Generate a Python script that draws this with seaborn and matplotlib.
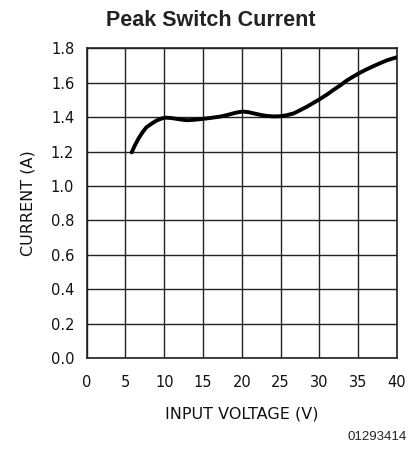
import matplotlib
matplotlib.use("Agg")
import matplotlib.pyplot as plt
import seaborn as sns
import pandas as pd
from matplotlib import font_manager

voltage = [5.8, 6.2, 6.7, 7.2, 7.7, 8.4, 9.0, 9.6, 10.1, 10.8, 11.6, 12.3, 12.9, 14.0, 15.0,
           16.1, 17.2, 18.1, 18.9, 19.5, 20.1, 20.8, 21.5, 22.4, 23.2, 24.1, 24.9, 25.8,
           26.7, 27.5, 28.4, 29.2, 30.1, 31.0, 31.8, 32.7, 33.5, 34.3, 35.1, 36.0, 37.0,
           37.9, 38.7, 39.4, 40.0]
current = [1.195, 1.235, 1.277, 1.312, 1.341, 1.363, 1.380, 1.391, 1.397, 1.395, 1.390,
           1.385, 1.382, 1.385, 1.390, 1.396, 1.403, 1.412, 1.422, 1.428, 1.432, 1.429,
           1.422, 1.413, 1.407, 1.404, 1.405, 1.411, 1.422, 1.440, 1.461, 1.482, 1.506,
           1.532, 1.558, 1.585, 1.612, 1.634, 1.655, 1.676, 1.697, 1.715, 1.730, 1.740,
           1.748]
x_ticks = [0, 5, 10, 15, 20, 25, 30, 35, 40]
y_ticks = [0.0, 0.2, 0.4, 0.6, 0.8, 1.0, 1.2, 1.4, 1.6, 1.8]

df = pd.DataFrame({"Input Voltage (V)": voltage, "Current (A)": current})

sns.set_theme(style="white")
avail = {f.name for f in font_manager.fontManager.ttflist}
narrow = "Liberation Sans Narrow" if "Liberation Sans Narrow" in avail else "DejaVu Sans"
plt.rcParams["font.family"] = [narrow, "DejaVu Sans"]

fig = plt.figure(figsize=(4.14, 4.5), dpi=100)
ax = fig.add_axes([0.2094, 0.2044, 0.7496, 0.6883])

sns.lineplot(data=df, x="Input Voltage (V)", y="Current (A)", ax=ax,
             color="black", linewidth=2.8, sort=True, zorder=5)

ax.set_xlim(0, 40)
ax.set_ylim(0, 1.8)
ax.set_xticks(x_ticks)
ax.set_yticks(y_ticks)
ax.set_xticklabels([str(t) for t in x_ticks], fontsize=10.5)
ax.set_yticklabels([f"{t:.1f}" for t in y_ticks], fontsize=10.5)
ax.tick_params(axis="x", length=0, pad=12, colors="#111111")
ax.tick_params(axis="y", length=0, pad=9, colors="#111111")
ax.grid(True, color="#222222", linewidth=1.0)
for s in ax.spines.values():
    s.set_visible(True)
    s.set_color("#222222")
    s.set_linewidth(1.2)

ax.set_xlabel("INPUT VOLTAGE (V)", fontsize=11.5, labelpad=12, color="#111111")
ax.set_ylabel("CURRENT (A)", fontsize=11.5, labelpad=11, color="#111111")

fig.text(0.51, 0.955, "Peak Switch Current", ha="center", va="center",
         fontsize=15.5, fontweight="bold", family="Liberation Sans", color="#222222")
fig.text(0.983, 0.03, "01293414", ha="right", va="center", fontsize=9.5,
         family="Liberation Sans", color="#222222")

fig.savefig("out.png", dpi=100)
